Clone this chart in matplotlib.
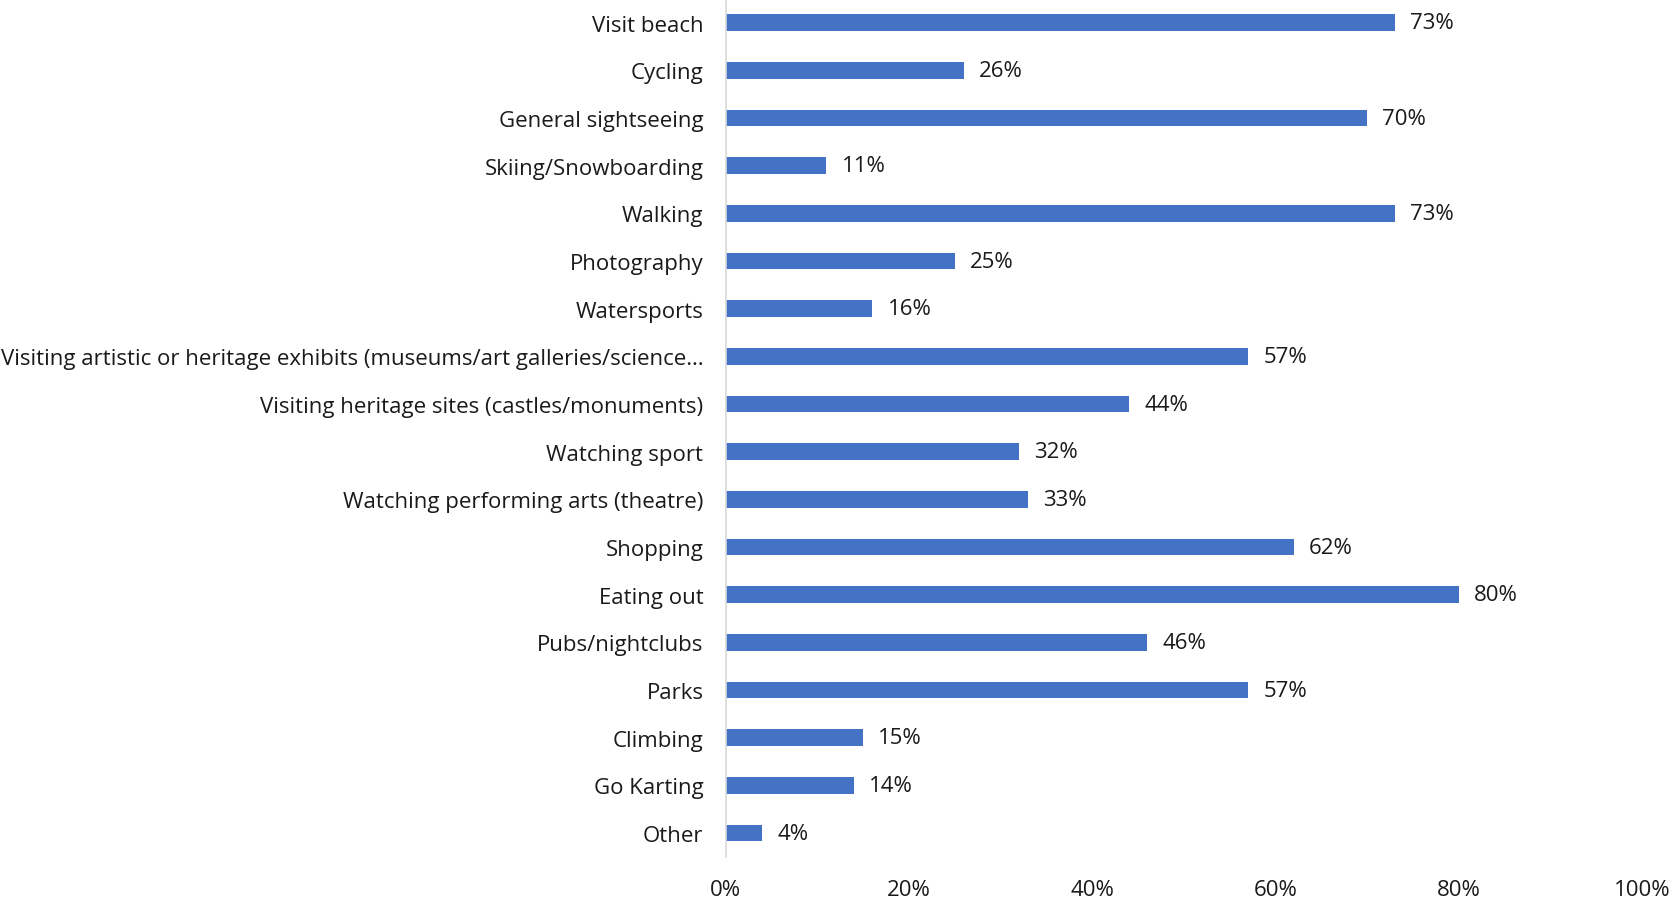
import matplotlib.pyplot as plt
from matplotlib.ticker import PercentFormatter

activities = [
    "Visit beach", "Cycling", "General sightseeing", "Skiing/Snowboarding",
    "Walking", "Photography", "Watersports",
    "Visiting artistic or heritage exhibits (museums/art galleries/science…",
    "Visiting heritage sites (castles/monuments)", "Watching sport",
    "Watching performing arts (theatre)", "Shopping", "Eating out",
    "Pubs/nightclubs", "Parks", "Climbing", "Go Karting", "Other",
]
shares = [73, 26, 70, 11, 73, 25, 16, 57, 44, 32, 33, 62, 80, 46, 57, 15, 14, 4]
x_ticks = [0, 20, 40, 60, 80, 100]

plt.rcParams['font.family'] = ['Open Sans', 'DejaVu Sans']
text_color = '#1a1a1a'
fs = 16

fig = plt.figure(figsize=(16.72, 9.04), dpi=100)
ax = fig.add_axes([0.434, 0.051, 0.548, 0.949])

pos = range(len(activities))
bars = ax.barh(pos, shares, height=0.35, color='#4472C4')

for b, v in zip(bars, shares):
    ax.annotate(f"{v}%", (b.get_width(), b.get_y() + b.get_height() / 2),
                xytext=(11, 0), textcoords='offset points',
                va='center', ha='left', fontsize=fs, color=text_color)

ax.set_yticks(list(pos))
ax.set_yticklabels(activities, fontsize=fs, color=text_color)
ax.set_ylim(len(activities) - 0.5, -0.5)
ax.set_xlim(0, 100)
ax.set_xticks(x_ticks)
ax.xaxis.set_major_formatter(PercentFormatter(decimals=0))
ax.tick_params(axis='x', length=0, labelsize=fs, labelcolor=text_color, pad=16)
ax.tick_params(axis='y', length=0, pad=16)

for side in ['top', 'right', 'bottom']:
    ax.spines[side].set_visible(False)
ax.spines['left'].set_color('#d9d9d9')
ax.spines['left'].set_linewidth(1.2)

fig.savefig('out.png', dpi=100)
